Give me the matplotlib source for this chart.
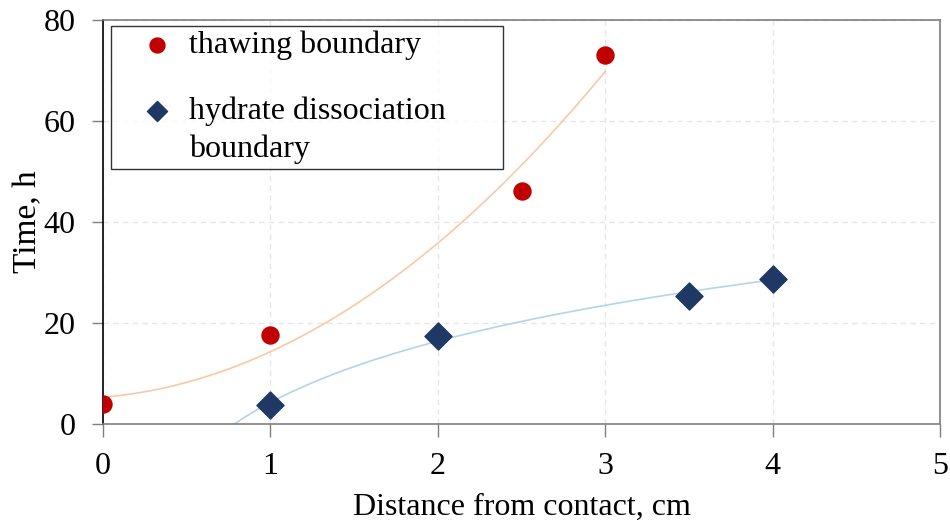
import numpy as np
import matplotlib
matplotlib.use("Agg")
import matplotlib.pyplot as plt

plt.rcParams['font.family'] = ['Liberation Serif', 'DejaVu Serif']

# measured boundaries
thaw_x = [0, 1, 2.5, 3]
thaw_t = [4.0, 17.5, 46.1, 73.0]
hyd_x = [1, 2, 3.5, 4]
hyd_t = [3.8, 17.4, 25.4, 28.7]

fig = plt.figure(figsize=(9.5, 5.22), dpi=100)
ax = fig.add_axes([0.1085, 0.188, 0.881, 0.774])

# trend lines: quadratic for thawing, logarithmic for dissociation
pq = np.polyfit(thaw_x, thaw_t, 2)
xq = np.linspace(0, 3, 200)
ax.plot(xq, np.polyval(pq, xq), color='#f8c9a6', lw=1.2, zorder=2)

pl = np.polyfit(np.log(hyd_x), hyd_t, 1)
xl = np.linspace(0.7, 4, 300)
ax.plot(xl, np.polyval(pl, np.log(xl)), color='#b4d3ee', lw=1.2, zorder=2)

ax.scatter(thaw_x, thaw_t, s=150, marker='o', color='#c00000', zorder=3,
           label='thawing boundary')
ax.scatter(hyd_x, hyd_t, s=190, marker='D', color='#1f3864', zorder=3,
           label='hydrate dissociation\nboundary')

ax.set_xlim(0, 5)
ax.set_ylim(0, 80)
ax.set_xticks(range(0, 6))
ax.set_yticks(range(0, 81, 20))
ax.grid(True, color='#e6e6e6', ls=(0, (4, 3)), lw=1)
ax.set_axisbelow(True)

for side in ['top', 'right', 'bottom']:
    ax.spines[side].set_color('#7f7f7f')
    ax.spines[side].set_linewidth(1.2)
ax.spines['left'].set_color('black')
ax.spines['left'].set_linewidth(1.2)

ax.tick_params(axis='x', direction='out', length=9, width=1, color='#7f7f7f',
               labelsize=23, pad=11)
ax.tick_params(axis='y', direction='out', length=8, width=1, color='#7f7f7f',
               labelsize=23, pad=12)

ax.set_xlabel('Distance from contact, cm', fontsize=23, labelpad=9)
ax.set_ylabel('Time, h', fontsize=24, labelpad=0)

leg = ax.legend(loc='upper left', bbox_to_anchor=(0.0096, 0.653, 0.468, 0.332),
                mode='expand', fontsize=23,
                frameon=True, fancybox=False, edgecolor='black',
                borderpad=0.15, labelspacing=1.15, handletextpad=-0.3,
                handlelength=2.6, borderaxespad=0, markerscale=0.95,
                scatterpoints=1)
leg.get_frame().set_linewidth(1.0)
for t in leg.get_texts():
    t.set_linespacing(1.38)

# legend symbols: smaller diamond, level with the first line of its label
h_circ, h_dia = leg.legend_handles
h_circ.set_sizes([115])
h_dia.set_sizes([105])
off = h_dia.get_offsets().copy()
off[:, 1] += 16
h_dia.set_offsets(off)

fig.savefig('out.png', dpi=100)
